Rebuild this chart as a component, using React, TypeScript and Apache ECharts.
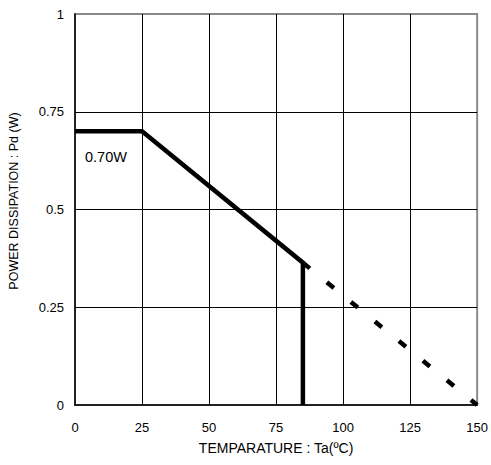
import React, { useEffect, useRef } from "react";
import * as echarts from "echarts";

const solidLine: [number, number][] = [
  [0, 0.7],
  [25, 0.7],
  [85, 0.364],
  [85, 0],
];
const dashedLine: [number, number][] = [
  [85, 0.364],
  [150, 0],
];
const xTicks = [0, 25, 50, 75, 100, 125, 150];
const yTicks = [0, 0.25, 0.5, 0.75, 1];
const ratingLabel = "0.70W";
const xName = "TEMPARATURE : Ta(ºC)";
const yName = "POWER DISSIPATION : Pd (W)";

export default function App() {
  const ref = useRef<HTMLDivElement>(null);
  useEffect(() => {
    if (!ref.current) return;
    const chart = echarts.init(ref.current, undefined, { renderer: "svg" });
    const font = "Liberation Sans, Arial, sans-serif";
    chart.setOption({
      animation: false,
      backgroundColor: "#fff",
      grid: {
        left: 75,
        right: 11,
        top: 14,
        bottom: 60,
        show: true,
        borderColor: "#8a8a8a",
        borderWidth: 2,
      },
      xAxis: {
        type: "value",
        min: xTicks[0],
        max: xTicks[xTicks.length - 1],
        interval: 25,
        name: xName,
        nameLocation: "middle",
        nameGap: 36,
        nameTextStyle: { color: "#000", fontSize: 14, fontFamily: font },
        axisLine: { show: true, lineStyle: { color: "#000", width: 1.5 } },
        axisTick: { show: false },
        axisLabel: { color: "#000", fontSize: 13, fontFamily: font, margin: 16 },
        splitLine: { show: true, showMinLine: false, showMaxLine: false, lineStyle: { color: "#000", width: 1 } },
      },
      yAxis: {
        type: "value",
        min: yTicks[0],
        max: yTicks[yTicks.length - 1],
        interval: 0.25,
        axisLine: { show: true, lineStyle: { color: "#000", width: 1.5 } },
        axisTick: { show: false },
        axisLabel: {
          color: "#000",
          fontSize: 13,
          fontFamily: font,
          margin: 11,
          formatter: (v: number) => String(v),
        },
        splitLine: { show: true, showMinLine: false, showMaxLine: false, lineStyle: { color: "#000", width: 1 } },
      },
      series: [
        {
          type: "line",
          data: solidLine,
          symbol: "none",
          lineStyle: { color: "#000", width: 4.5, join: "miter" },
          z: 3,
        },
        {
          type: "line",
          data: dashedLine,
          symbol: "none",
          lineStyle: { color: "#000", width: 4.5, type: [9, 22] },
          z: 2,
        },
      ],
      graphic: [
        {
          type: "text",
          left: 85,
          top: 149,
          style: { text: ratingLabel, fill: "#000", fontSize: 14.5, fontFamily: font },
        },
        {
          type: "text",
          x: 14,
          y: 201,
          rotation: Math.PI / 2,
          style: {
            text: yName,
            fill: "#000",
            fontSize: 12.5,
            fontFamily: font,
            align: "center",
            verticalAlign: "middle",
          },
        },
      ],
    });
    return () => chart.dispose();
  }, []);
  return (
    <div
      ref={ref}
      style={{ position: "fixed", left: 0, top: 0, width: 491, height: 465 }}
    />
  );
}
